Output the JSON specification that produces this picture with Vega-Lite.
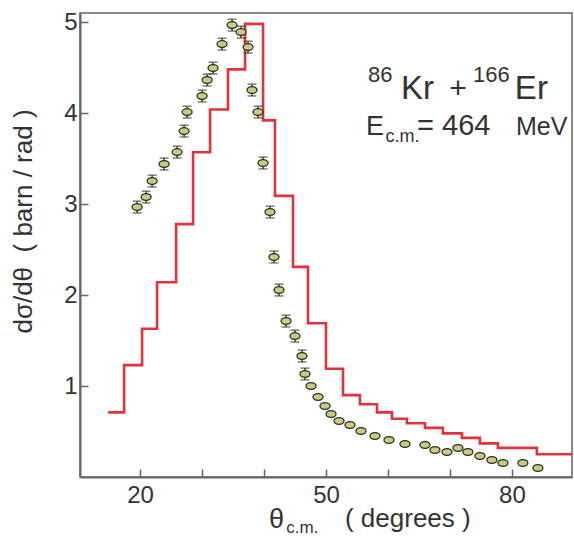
{
  "$schema": "https://vega.github.io/schema/vega-lite/v6.json",
  "width": 492,
  "height": 464,
  "autosize": "none",
  "padding": {"left": 80, "top": 13, "right": 2, "bottom": 61},
  "background": "white",
  "config": {
    "view": {"stroke": "#666", "strokeWidth": 1.5},
    "font": "Liberation Sans",
    "axis": {
      "domainColor": "#666",
      "domainWidth": 2,
      "tickColor": "#666",
      "tickWidth": 1.5,
      "tickSize": -8,
      "labelColor": "#333",
      "labelFont": "Liberation Sans",
      "grid": false
    }
  },
  "datasets": {
    "hist": [
      {"theta": 14.84, "dsig": 0.71},
      {"theta": 17.42, "dsig": 1.23},
      {"theta": 20.32, "dsig": 1.63},
      {"theta": 22.74, "dsig": 2.14},
      {"theta": 25.81, "dsig": 2.78},
      {"theta": 28.55, "dsig": 3.57},
      {"theta": 31.29, "dsig": 4.04},
      {"theta": 34.19, "dsig": 4.48},
      {"theta": 36.94, "dsig": 4.98},
      {"theta": 39.84, "dsig": 3.92},
      {"theta": 41.77, "dsig": 3.09},
      {"theta": 44.68, "dsig": 2.31},
      {"theta": 47.10, "dsig": 1.69},
      {"theta": 50.00, "dsig": 1.19},
      {"theta": 52.74, "dsig": 0.90},
      {"theta": 55.48, "dsig": 0.80},
      {"theta": 58.23, "dsig": 0.71},
      {"theta": 60.65, "dsig": 0.64},
      {"theta": 63.06, "dsig": 0.59},
      {"theta": 65.97, "dsig": 0.54},
      {"theta": 68.87, "dsig": 0.48},
      {"theta": 71.94, "dsig": 0.43},
      {"theta": 74.84, "dsig": 0.37},
      {"theta": 77.74, "dsig": 0.32},
      {"theta": 84.03, "dsig": 0.25},
      {"theta": 89.7, "dsig": 0.25}
    ],
    "pts": [
      {"theta": 19.52, "sigma": 2.967, "err": 0.065},
      {"theta": 20.97, "sigma": 3.077, "err": 0.065},
      {"theta": 21.94, "sigma": 3.253, "err": 0.065},
      {"theta": 23.87, "sigma": 3.440, "err": 0.065},
      {"theta": 25.97, "sigma": 3.571, "err": 0.065},
      {"theta": 27.10, "sigma": 3.802, "err": 0.065},
      {"theta": 27.58, "sigma": 4.011, "err": 0.065},
      {"theta": 30.00, "sigma": 4.187, "err": 0.065},
      {"theta": 30.81, "sigma": 4.363, "err": 0.065},
      {"theta": 31.77, "sigma": 4.495, "err": 0.065},
      {"theta": 33.23, "sigma": 4.758, "err": 0.065},
      {"theta": 34.84, "sigma": 4.967, "err": 0.065},
      {"theta": 36.29, "sigma": 4.890, "err": 0.065},
      {"theta": 37.42, "sigma": 4.725, "err": 0.065},
      {"theta": 38.06, "sigma": 4.253, "err": 0.065},
      {"theta": 39.03, "sigma": 4.011, "err": 0.065},
      {"theta": 39.84, "sigma": 3.451, "err": 0.065},
      {"theta": 40.97, "sigma": 2.912, "err": 0.065},
      {"theta": 41.61, "sigma": 2.418, "err": 0.065},
      {"theta": 42.42, "sigma": 2.055, "err": 0.065},
      {"theta": 43.55, "sigma": 1.714, "err": 0.065},
      {"theta": 45.00, "sigma": 1.549, "err": 0.065},
      {"theta": 46.13, "sigma": 1.330, "err": 0.065},
      {"theta": 46.61, "sigma": 1.132, "err": 0.065},
      {"theta": 47.58, "sigma": 1.000, "err": 0},
      {"theta": 48.71, "sigma": 0.879, "err": 0},
      {"theta": 49.84, "sigma": 0.780, "err": 0},
      {"theta": 50.81, "sigma": 0.692, "err": 0},
      {"theta": 52.10, "sigma": 0.615, "err": 0},
      {"theta": 53.87, "sigma": 0.571, "err": 0},
      {"theta": 55.65, "sigma": 0.505, "err": 0},
      {"theta": 57.90, "sigma": 0.451, "err": 0},
      {"theta": 60.16, "sigma": 0.407, "err": 0},
      {"theta": 62.74, "sigma": 0.363, "err": 0},
      {"theta": 65.97, "sigma": 0.352, "err": 0},
      {"theta": 67.58, "sigma": 0.297, "err": 0},
      {"theta": 69.52, "sigma": 0.275, "err": 0},
      {"theta": 71.29, "sigma": 0.319, "err": 0},
      {"theta": 72.90, "sigma": 0.275, "err": 0},
      {"theta": 74.84, "sigma": 0.231, "err": 0},
      {"theta": 76.77, "sigma": 0.187, "err": 0},
      {"theta": 78.55, "sigma": 0.154, "err": 0},
      {"theta": 81.77, "sigma": 0.154, "err": 0},
      {"theta": 84.19, "sigma": 0.099, "err": 0}
    ],
    "one": [{}]
  },
  "layer": [
    {
      "data": {"name": "hist"},
      "mark": {"type": "line", "interpolate": "step-after", "color": "#e2323c", "strokeWidth": 2.6},
      "encoding": {
        "x": {
          "field": "theta", "type": "quantitative",
          "scale": {"domain": [10.3, 89.7], "nice": false, "zero": false},
          "axis": {
            "title": null,
            "values": [20, 30, 40, 50, 60, 70, 80],
            "labelExpr": "datum.value % 30 == 20 ? datum.label : ''",
            "labelFontSize": 24,
            "labelPadding": 14,
            "labelFlush": false
          }
        },
        "y": {
          "field": "dsig", "type": "quantitative",
          "title": "dσ/dθ\u00a0\u00a0( barn / rad )",
          "scale": {"domain": [0, 5.1], "nice": false, "zero": false},
          "axis": {
            "title": "dσ/dθ\u00a0\u00a0( barn / rad )",
            "titleFontSize": 26,
            "titleFontWeight": "normal",
            "titleColor": "#333",
            "titleFont": "Liberation Sans",
            "titleX": -57,
            "titleY": 208,
            "titleAngle": -90,
            "titleAlign": "center",
            "titleBaseline": "middle",
            "values": [1, 2, 3, 4, 5],
            "format": "d",
            "labelFontSize": 24,
            "labelPadding": 11,
            "labelFlush": false
          }
        }
      }
    },
    {
      "data": {"name": "pts"},
      "transform": [{"filter": "datum.err > 0"}],
      "mark": {"type": "errorbar", "ticks": {"size": 9, "color": "#2a2a1a", "thickness": 1.3}, "color": "#2a2a1a", "thickness": 1.3},
      "encoding": {
        "x": {"field": "theta", "type": "quantitative", "title": null},
        "y": {"field": "sigma", "type": "quantitative", "title": "dσ/dθ\u00a0\u00a0( barn / rad )"},
        "yError": {"field": "err"}
      }
    },
    {
      "data": {"name": "pts"},
      "mark": {
        "type": "point",
        "shape": "M-1,0A1,0.68,0,1,0,1,0A1,0.68,0,1,0,-1,0Z",
        "size": 100,
        "filled": true,
        "fill": "#c9c98a",
        "stroke": "#2d2d18",
        "strokeWidth": 1.3,
        "opacity": 1
      },
      "encoding": {
        "x": {"field": "theta", "type": "quantitative", "title": null},
        "y": {"field": "sigma", "type": "quantitative", "title": "dσ/dθ\u00a0\u00a0( barn / rad )"}
      }
    },
    {
      "data": {"name": "one"},
      "mark": {"type": "text", "text": "86", "fontSize": 22, "align": "left", "baseline": "alphabetic", "color": "#333"},
      "encoding": {"x": {"datum": 56.77, "type": "quantitative"}, "y": {"datum": 4.34, "type": "quantitative"}}
    },
    {
      "data": {"name": "one"},
      "mark": {"type": "text", "text": "Kr", "fontSize": 33, "align": "left", "baseline": "alphabetic", "color": "#333"},
      "encoding": {"x": {"datum": 62.1, "type": "quantitative"}, "y": {"datum": 4.154, "type": "quantitative"}}
    },
    {
      "data": {"name": "one"},
      "mark": {"type": "text", "text": "+", "fontSize": 30, "align": "center", "baseline": "alphabetic", "color": "#333"},
      "encoding": {"x": {"datum": 71.3, "type": "quantitative"}, "y": {"datum": 4.17, "type": "quantitative"}}
    },
    {
      "data": {"name": "one"},
      "mark": {"type": "text", "text": "166", "fontSize": 22, "align": "left", "baseline": "alphabetic", "color": "#333"},
      "encoding": {"x": {"datum": 73.71, "type": "quantitative"}, "y": {"datum": 4.34, "type": "quantitative"}}
    },
    {
      "data": {"name": "one"},
      "mark": {"type": "text", "text": "Er", "fontSize": 33, "align": "left", "baseline": "alphabetic", "color": "#333"},
      "encoding": {"x": {"datum": 80.48, "type": "quantitative"}, "y": {"datum": 4.154, "type": "quantitative"}}
    },
    {
      "data": {"name": "one"},
      "mark": {"type": "text", "text": "E", "fontSize": 27, "align": "left", "baseline": "alphabetic", "color": "#333"},
      "encoding": {"x": {"datum": 56.45, "type": "quantitative"}, "y": {"datum": 3.758, "type": "quantitative"}}
    },
    {
      "data": {"name": "one"},
      "mark": {"type": "text", "text": "c.m.", "fontSize": 18, "align": "left", "baseline": "alphabetic", "color": "#333"},
      "encoding": {"x": {"datum": 59.6, "type": "quantitative"}, "y": {"datum": 3.68, "type": "quantitative"}}
    },
    {
      "data": {"name": "one"},
      "mark": {"type": "text", "text": "= 464", "fontSize": 29, "align": "left", "baseline": "alphabetic", "color": "#333"},
      "encoding": {"x": {"datum": 64.7, "type": "quantitative"}, "y": {"datum": 3.758, "type": "quantitative"}}
    },
    {
      "data": {"name": "one"},
      "mark": {"type": "text", "text": "MeV", "fontSize": 25, "align": "left", "baseline": "alphabetic", "color": "#333"},
      "encoding": {"x": {"datum": 80.65, "type": "quantitative"}, "y": {"datum": 3.758, "type": "quantitative"}}
    },
    {
      "data": {"name": "one"},
      "mark": {"type": "text", "text": "θ", "fontSize": 27, "align": "left", "baseline": "alphabetic", "color": "#333"},
      "encoding": {"x": {"datum": 40.8, "type": "quantitative"}, "y": {"datum": -0.56, "type": "quantitative"}}
    },
    {
      "data": {"name": "one"},
      "mark": {"type": "text", "text": "c.m.", "fontSize": 17, "align": "left", "baseline": "alphabetic", "color": "#333"},
      "encoding": {"x": {"datum": 43.6, "type": "quantitative"}, "y": {"datum": -0.62, "type": "quantitative"}}
    },
    {
      "data": {"name": "one"},
      "mark": {"type": "text", "text": "( degrees )", "fontSize": 26, "align": "left", "baseline": "alphabetic", "color": "#333"},
      "encoding": {"x": {"datum": 53.06, "type": "quantitative"}, "y": {"datum": -0.55, "type": "quantitative"}}
    }
  ]
}
